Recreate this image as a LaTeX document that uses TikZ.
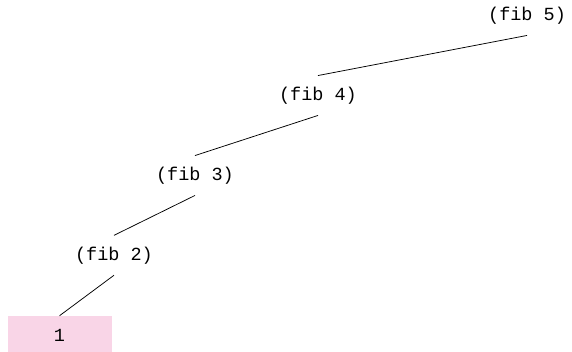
\documentclass[tikz,border=0pt]{standalone}
\usepackage{fontspec}
\setmonofont{Liberation Mono}
\definecolor{leafpink}{RGB}{249,213,231}
\begin{document}
\begin{tikzpicture}[x=1pt,y=1pt,
  callbox/.style={minimum width=104pt,minimum height=39.5pt,inner sep=0pt,
    font=\ttfamily\fontsize{18.5}{18.5}\selectfont},
  leafbox/.style={callbox,fill=leafpink},
  edge/.style={draw=black,line width=0.75pt}]
\useasboundingbox (0,0) rectangle (572,-352);
\begin{scope}
\clip (0,0) rectangle (572,-352);
\node[callbox] (f5) at (527,-15.5) {\raisebox{-3.5pt}{(fib 5)}};
\node[callbox] (f4) at (318,-95.5) {\raisebox{-3.5pt}{(fib 4)}};
\node[callbox] (f3) at (195,-175.5) {\raisebox{-3.5pt}{(fib 3)}};
\node[callbox] (f2) at (114,-255.3) {\raisebox{-3.5pt}{(fib 2)}};
\node[leafbox] (l1) at (59.5,-335.7) {\raisebox{-3.5pt}{1}};
\draw[edge] (f5.south) -- (f4.north);
\draw[edge] (f4.south) -- (f3.north);
\draw[edge] (f3.south) -- (f2.north);
\draw[edge] (f2.south) -- (l1.north);
\end{scope}
\end{tikzpicture}
\end{document}
